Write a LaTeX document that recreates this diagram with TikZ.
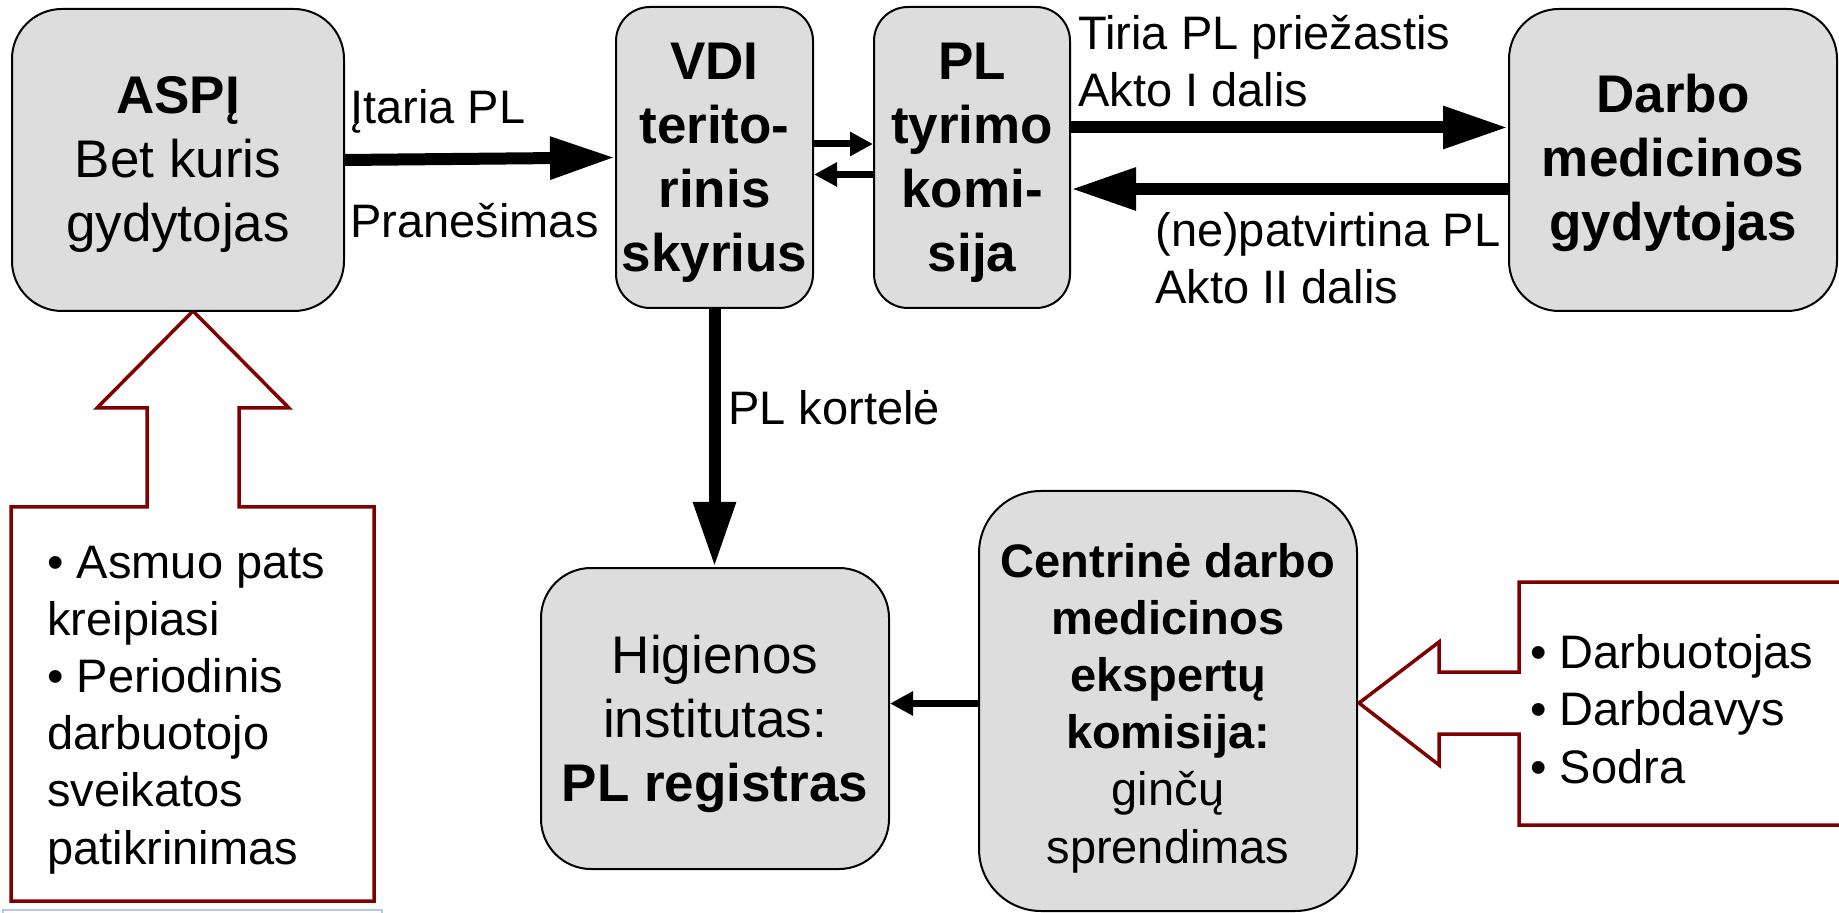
\documentclass[tikz,border=0pt]{standalone}
\usepackage{fontspec}
\setmainfont{Liberation Sans}
\usetikzlibrary{arrows.meta}
\definecolor{boxgray}{RGB}{221,221,221}
\definecolor{darkred}{RGB}{128,0,0}
\definecolor{paleblue}{RGB}{180,199,231}
\begin{document}
\begin{tikzpicture}[x=0.5pt,y=-0.5pt,
  roundbox/.style={draw=black, line width=1pt, fill=boxgray, inner sep=0pt, rectangle},
  bigtxt/.style={font=\fontsize{26.5}{32}\selectfont, align=center, inner sep=0pt, anchor=base},
  midtxt/.style={font=\fontsize{23.5}{28.6}\selectfont, inner sep=0pt},
  lbl/.style={midtxt, align=left, anchor=base west},
  callout/.style={draw=darkred, line width=1.75pt, fill=white, line join=miter},
  bigarrow/.style={line width=6pt, -{Triangle[length=32.5pt,width=20pt]}},
  smallarrow/.style={line width=3.5pt, -{Triangle[length=11.5pt,width=11.5pt]}}
]
\useasboundingbox (0,0) rectangle (1839,913);

% block arrows (callouts)
\filldraw[callout] (11,507) -- (147,507) -- (147,408) -- (97,408) -- (193,311) -- (289,408) -- (239,408) -- (239,507) -- (374,507) -- (374,901) -- (11,901) -- cycle;
\fill[white] (1845,582) -- (1519,582) -- (1519,672) -- (1439,672) -- (1439,642) -- (1359,703) -- (1439,765) -- (1439,734) -- (1519,734) -- (1519,825) -- (1845,825) -- cycle;
\draw[callout] (1845,582) -- (1519,582) -- (1519,672) -- (1439,672) -- (1439,642) -- (1359,703) -- (1439,765) -- (1439,734) -- (1519,734) -- (1519,825) -- (1845,825);
\draw[paleblue, line width=1pt] (3,916) -- (3,910) -- (382,910) -- (382,916);

% boxes
\node[roundbox, rounded corners=25pt, minimum width=166pt, minimum height=151pt] (aspi) at (178,160) {};
\node[roundbox, rounded corners=17pt, minimum width=98.5pt, minimum height=150.5pt] (vdi) at (714.5,157.5) {};
\node[roundbox, rounded corners=17pt, minimum width=98pt, minimum height=150.5pt] (pl) at (972,157.5) {};
\node[roundbox, rounded corners=25pt, minimum width=164pt, minimum height=151pt] (darbo) at (1673,160) {};
\node[roundbox, rounded corners=25pt, minimum width=174pt, minimum height=150.5pt] (hig) at (715,718.5) {};
\node[roundbox, rounded corners=31pt, minimum width=189pt, minimum height=210pt] (cent) at (1168,701) {};

% box texts (anchor base = baseline of the last line)
\node[bigtxt] (aspi-t) at (178,242) {{\bfseries ASPĮ}\\Bet kuris\\gydytojas};
\node[bigtxt, font=\fontsize{26.5}{32}\selectfont\bfseries] (vdi-t) at (714.5,272) {VDI\\terito-\\rinis\\skyrius};
\node[bigtxt, font=\fontsize{26.5}{32}\selectfont\bfseries] (pl-t) at (972,272) {PL\\tyrimo\\komi-\\sija};
\node[bigtxt, font=\fontsize{26.5}{32}\selectfont\bfseries] (darbo-t) at (1673,241) {Darbo\\medicinos\\gydytojas};
\node[bigtxt] (hig-t) at (715,801) {Higienos\\institutas:\\{\bfseries PL registras}};
\node[midtxt, align=center, anchor=base] (cent-t) at (1168,863) {{\bfseries Centrinė darbo}\\{\bfseries medicinos}\\{\bfseries ekspertų}\\{\bfseries komisija:}\\ginčų\\sprendimas};

% lists
\node[lbl] (list1) at (47,864) {• Asmuo pats\\kreipiasi\\• Periodinis\\darbuotojo\\sveikatos\\patikrinimas};
\node[lbl] (list2) at (1530,783) {• Darbuotojas\\• Darbdavys\\• Sodra};

% connectors
\draw[bigarrow] (aspi.east) -- (vdi.west);
\draw[smallarrow] ([yshift=6.75pt]vdi.east) -- ([yshift=6.75pt]vdi.east -| pl.west);
\draw[smallarrow] ([yshift=-8.5pt]vdi.east -| pl.west) -- ([yshift=-8.5pt]vdi.east);
\draw[bigarrow] ([yshift=15pt]pl.east) -- ([yshift=15pt]pl.east -| darbo.west);
\draw[bigarrow] ([yshift=-15.75pt]pl.east -| darbo.west) -- ([yshift=-15.75pt]pl.east);
\draw[bigarrow] (vdi.south) -- (vdi.south |- hig.north);
\draw[smallarrow] ([yshift=-1.25pt]cent.west) -- ([yshift=-1.25pt]cent.west -| hig.east);

% connector labels
\node[lbl] (l1) at (350,124) {Įtaria PL};
\node[lbl] (l2) at (350,238) {Pranešimas};
\node[lbl] (l3) at (1078,107) {Tiria PL priežastis\\Akto I dalis};
\node[lbl] (l4) at (1155,304) {(ne)patvirtina PL\\Akto II dalis};
\node[lbl] (l5) at (728,425) {PL kortelė};
\end{tikzpicture}
\end{document}
